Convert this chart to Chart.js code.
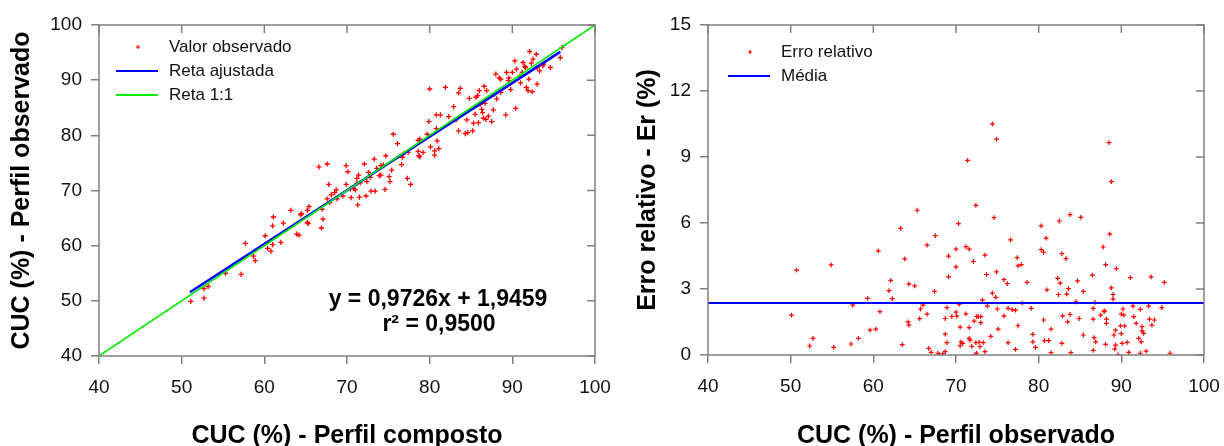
<!DOCTYPE html>
<html>
<head>
<meta charset="utf-8">
<script src="https://cdn.jsdelivr.net/npm/chart.js@4/dist/chart.umd.min.js"></script>
<style>
  body { margin: 0; background: #fff; }
  #wrap { position: relative; width: 1224px; height: 446px; }
  .box { position: absolute; top: 0; width: 612px; height: 446px; }
</style>
</head>
<body>
<div id="wrap">
  <div class="box" style="left:0"><canvas id="chartCUC" width="612" height="446"></canvas></div>
  <div class="box" style="left:612px"><canvas id="chartErro" width="612" height="446"></canvas></div>
</div>
<script>
// Perfil composto (x) x Perfil observado (y)
const cucComposto = [51.1,52.7,52.7,53.2,55.3,57.2,57.7,58.7,58.9,60.1,60.4,60.8,61.0,61.0,61.1,62.0,62.3,63.2,63.9,64.2,
  64.4,64.5,65.2,65.3,65.4,65.2,66.6,66.9,67.0,67.1,67.6,67.6,67.8,67.9,68.1,68.5,68.7,68.8,69.5,69.9,
  69.9,70.1,70.4,70.5,70.8,71.0,71.2,71.2,71.3,71.4,71.5,71.6,72.1,72.3,72.4,72.6,72.8,72.9,73.3,73.4,
  73.6,73.9,74.1,74.1,74.4,74.6,74.7,75.1,75.2,75.4,75.6,76.1,76.6,76.7,76.8,77.3,77.4,77.7,78.6,78.6,
  78.7,78.8,78.8,79.2,79.7,80.0,79.9,80.1,80.6,80.6,80.8,80.8,80.9,81.1,81.3,81.9,82.3,82.9,83.2,83.5,
  83.5,83.7,84.3,84.5,84.6,84.8,85.2,85.3,85.5,85.6,85.8,85.9,86.0,86.1,86.3,86.4,86.5,86.6,86.7,86.8,
  86.9,87.1,87.5,87.7,87.8,88.0,88.1,88.4,88.6,88.6,89.2,89.3,89.5,89.6,89.8,90.0,90.3,90.4,90.5,90.9,
  91.0,91.2,91.3,91.5,91.6,91.7,91.9,92.0,92.1,92.3,92.4,92.5,92.9,93.0,93.0,93.3,93.7,93.8,94.6,95.8,96.0];
const cucObservado = [49.9,50.5,52.2,52.6,55.0,54.8,60.4,58.1,57.3,61.8,59.5,59.0,60.2,63.6,65.2,60.6,64.1,66.4,62.1,61.9,
  65.6,65.8,64.2,64.0,67.1,66.4,74.3,63.2,66.6,64.8,74.8,68.5,71.1,67.8,69.2,69.6,70.1,68.5,69.0,74.5,
  71.1,73.4,70.3,68.7,70.4,70.1,72.2,71.3,67.4,72.8,68.8,71.4,74.8,69.0,71.6,73.3,72.4,69.9,75.7,69.9,
  74.0,72.7,74.5,72.8,74.6,70.2,76.3,72.5,71.6,73.7,80.2,78.5,74.7,76.0,76.6,72.2,76.9,71.1,79.1,77.1,
  76.3,76.1,79.3,76.9,80.2,88.4,82.5,77.9,77.2,76.4,83.7,81.2,79.0,77.6,83.7,88.7,83.4,85.2,82.8,80.8,
  87.7,88.5,80.3,82.8,80.5,86.7,80.8,82.2,83.8,86.9,87.2,82.3,88.1,85.6,84.7,84.1,83.1,88.9,85.8,82.9,
  88.1,83.5,82.5,84.6,87.4,91.1,86.6,90.4,90.2,87.8,83.7,91.4,89.9,90.4,88.3,91.4,93.5,84.9,92.0,90.7,
  89.5,91.4,93.2,92.5,92.3,88.7,88.1,90.2,95.2,93.1,87.9,93.8,94.7,92.3,89.3,91.7,92.6,92.9,92.3,94.1,95.9];

// reta ajustada y = 0,9726x + 1,9459 (extremos)
const retaX = [51.0, 95.8];
const retaY = [51.55, 95.12];
const reta11 = [40, 100];

// Erro relativo x Perfil observado
const erroX = [50.7,50.1,52.3,52.7,54.9,55.2,57.3,57.5,58.2,59.3,59.6,60.3,60.6,60.8,61.9,62.1,62.3,63.3,63.5,63.8,
  64.2,64.3,64.3,65.0,65.3,65.6,65.7,66.0,66.5,66.5,66.7,67.0,67.4,67.5,67.8,68.0,68.4,68.7,68.7,68.7,
  68.9,68.9,69.1,69.1,69.5,70.0,70.0,70.0,70.1,70.3,70.4,70.5,70.5,70.6,70.8,71.2,71.2,71.4,71.6,71.6,
  71.6,71.7,71.9,72.1,72.2,72.3,72.4,72.4,72.5,72.5,72.7,72.8,72.9,73.0,73.0,73.2,73.3,73.5,73.5,73.7,
  73.8,74.2,74.4,74.4,74.6,74.8,74.9,74.9,75.0,75.1,75.8,75.8,76.2,76.3,76.3,76.6,76.8,77.2,77.2,77.4,
  77.5,77.5,77.9,78.0,78.6,79.1,79.3,79.3,79.6,80.3,80.3,80.6,80.6,80.7,80.9,81.0,81.2,81.5,81.5,82.3,
  82.4,82.5,82.6,82.8,82.8,82.9,83.3,83.4,83.5,83.6,83.8,83.8,83.9,84.5,84.7,84.9,85.1,85.4,85.4,86.5,
  86.6,86.6,86.6,86.7,86.8,86.9,87.5,87.8,87.9,88.0,88.1,88.1,88.2,88.2,88.5,88.6,88.8,88.8,89.0,89.0,
  89.1,89.2,89.3,89.3,89.4,89.6,89.9,90.0,90.0,90.1,90.2,90.3,90.4,90.7,90.9,91.1,91.4,91.5,91.8,92.1,
  92.3,92.3,92.4,92.5,92.5,92.7,93.0,93.3,93.4,93.6,93.7,94.0,94.9,95.2,95.9];
const erroY = [3.86,1.81,0.41,0.76,4.10,0.35,0.50,2.27,0.76,2.57,1.13,1.18,4.73,1.97,2.93,3.39,2.56,5.76,0.47,4.37,
  1.51,3.22,1.36,3.14,6.58,1.65,2.09,2.27,1.86,4.99,0.30,0.12,2.89,5.43,0.08,0.02,0.05,0.95,0.15,1.66,
  0.56,2.15,3.55,4.49,1.75,4.01,4.81,1.95,1.77,5.97,2.31,1.27,0.42,0.60,0.53,4.93,1.87,8.85,4.81,1.24,
  0.76,0.68,0.39,4.25,1.54,0.02,6.80,0.56,1.75,0.08,1.74,0.57,0.38,1.74,1.47,2.49,0.56,0.15,4.54,3.66,
  2.22,0.85,10.51,2.81,6.24,2.62,3.78,9.81,2.09,1.18,3.43,1.78,3.24,2.12,0.56,5.23,2.06,2.04,0.26,4.43,
  1.33,4.05,4.11,2.36,3.30,2.12,0.94,0.60,0.35,5.87,4.79,4.67,1.59,0.65,5.31,2.96,0.65,1.18,0.11,3.48,
  2.75,6.09,3.27,0.53,4.61,1.78,4.38,2.77,1.51,3.02,6.38,1.84,0.11,2.42,3.37,1.66,6.26,0.91,2.89,3.63,
  2.12,1.63,0.21,0.79,2.39,0.60,1.81,4.91,1.98,2.00,4.11,0.48,1.63,1.44,9.65,5.49,7.88,3.05,2.75,2.54,
  0.91,0.27,1.13,0.45,3.93,0.02,1.32,1.86,0.97,0.53,2.09,1.81,1.32,0.57,0.12,3.52,2.22,1.74,1.44,0.76,
  0.08,2.07,0.60,1.10,1.29,0.98,0.18,2.22,1.63,3.55,1.36,1.59,2.15,3.30,0.08];
const mediaErro = 2.36;

const xTicksCUC = [40, 50, 60, 70, 80, 90, 100];
const yTicksCUC = [40, 50, 60, 70, 80, 90, 100];
const yTicksErro = [0, 3, 6, 9, 12, 15];

const grey = "#808080";
Chart.defaults.font.family = "'Liberation Sans', Arial, sans-serif";
Chart.defaults.color = "#111";

function pares(xs, ys) {
    return xs.map((x, i) => ({ x: x, y: ys[i] }));
}

// moldura com ticks internos no topo e na direita + legenda e texto
const moldura = {
    id: "moldura",
    afterDraw(chart, args, opts) {
        const ctx = chart.ctx;
        const a = chart.chartArea;
        const sx = chart.scales.x, sy = chart.scales.y;
        ctx.save();
        ctx.strokeStyle = grey;
        ctx.lineWidth = 1.5;
        ctx.strokeRect(a.left, a.top, a.right - a.left, a.bottom - a.top);
        ctx.beginPath();
        sx.ticks.forEach(t => {
            const px = sx.getPixelForValue(t.value);
            ctx.moveTo(px, a.top);
            ctx.lineTo(px, a.top + 8);
        });
        sy.ticks.forEach(t => {
            const py = sy.getPixelForValue(t.value);
            ctx.moveTo(a.right, py);
            ctx.lineTo(a.right - 8, py);
        });
        ctx.stroke();

        // legenda
        ctx.font = "17px 'Liberation Sans', Arial, sans-serif";
        ctx.textBaseline = "middle";
        ctx.fillStyle = "#111";
        opts.legenda.forEach((item, i) => {
            const y = opts.legY + i * 24;
            if (item.tipo === "ponto") {
                ctx.strokeStyle = "#ff0000";
                ctx.lineWidth = 1.2;
                ctx.beginPath();
                ctx.moveTo(138 - 2, y); ctx.lineTo(138 + 2, y);
                ctx.moveTo(138, y - 2); ctx.lineTo(138, y + 2);
                ctx.stroke();
            } else {
                ctx.strokeStyle = item.cor;
                ctx.lineWidth = 2;
                ctx.beginPath();
                ctx.moveTo(116, y); ctx.lineTo(158, y);
                ctx.stroke();
            }
            ctx.fillText(item.texto, 169, y);
        });

        if (opts.equacao) {
            ctx.font = "bold 23px 'Liberation Sans', Arial, sans-serif";
            ctx.textAlign = "center";
            ctx.fillStyle = "#000";
            ctx.fillText(opts.equacao[0], 438, 300);
            ctx.fillText(opts.equacao[1], 439, 325);
        }
        ctx.restore();
    }
};

function eixo(min, max, ticks, titulo, tamanho, horizontal, tituloPad) {
    return {
        type: "linear",
        min: min,
        max: max,
        afterBuildTicks: s => { s.ticks = ticks.map(v => ({ value: v })); },
        afterFit: s => {
            // tamanho fixo do eixo; sem folga extra para os rótulos das pontas
            if (horizontal) { s.height = tamanho; s.paddingLeft = 0; s.paddingRight = 0; }
            else { s.width = tamanho; s.paddingTop = 0; s.paddingBottom = 0; }
        },
        ticks: { font: { size: 19 }, color: "#111", padding: horizontal ? 12 : 9 },
        grid: { drawOnChartArea: false, tickLength: 8, color: grey, lineWidth: 1.5 },
        border: { display: false },
        title: {
            display: true,
            text: titulo,
            color: "#000",
            font: { size: 25, weight: "bold", lineHeight: horizontal ? 0.8 : 1 },
            padding: tituloPad
        }
    };
}

var ctxCUC = document.getElementById("chartCUC").getContext("2d");
var chartCUC = new Chart(ctxCUC, {
    type: "scatter",
    data: {
        datasets: [{
            label: "Reta 1:1",
            type: "line",
            data: pares(reta11, reta11),
            borderColor: "#00ee00",
            borderWidth: 1.6,
            pointRadius: 0,
            order: 1
        }, {
            label: "Reta ajustada",
            type: "line",
            data: pares(retaX, retaY),
            borderColor: "#0000ff",
            borderWidth: 2.6,
            pointRadius: 0,
            order: 2
        }, {
            label: "Valor observado",
            data: pares(cucComposto, cucObservado),
            pointStyle: "cross",
            pointRadius: 2.6,
            borderColor: "#ff0000",
            borderWidth: 1.3,
            order: 3
        }]
    },
    options: {
        responsive: false,
        animation: false,
        layout: { padding: { top: 25, right: 17, left: 0, bottom: 0 } },
        plugins: {
            legend: { display: false },
            tooltip: { enabled: false },
            moldura: {
                legY: 47,
                legenda: [
                    { tipo: "ponto", texto: "Valor observado" },
                    { tipo: "linha", cor: "#0000ff", texto: "Reta ajustada" },
                    { tipo: "linha", cor: "#00ee00", texto: "Reta 1:1" }
                ],
                equacao: ["y = 0,9726x + 1,9459", "r² = 0,9500"]
            }
        },
        scales: {
            x: eixo(40, 100, xTicksCUC, "CUC (%) - Perfil composto", 90, true, { top: 0, bottom: 0 }),
            y: eixo(40, 100, yTicksCUC, "CUC (%) - Perfil observado", 99, false, { top: 10, bottom: 0 })
        }
    },
    plugins: [moldura]
});

var ctxErro = document.getElementById("chartErro").getContext("2d");
var chartErro = new Chart(ctxErro, {
    type: "scatter",
    data: {
        datasets: [{
            label: "Média",
            type: "line",
            data: pares([40, 100], [mediaErro, mediaErro]),
            borderColor: "#0000ff",
            borderWidth: 2,
            pointRadius: 0,
            order: 1
        }, {
            label: "Erro relativo",
            data: pares(erroX, erroY),
            pointStyle: "cross",
            pointRadius: 2.4,
            borderColor: "#ff0000",
            borderWidth: 1.2,
            order: 2
        }]
    },
    options: {
        responsive: false,
        animation: false,
        layout: { padding: { top: 25, right: 20, left: 0, bottom: 0 } },
        plugins: {
            legend: { display: false },
            tooltip: { enabled: false },
            moldura: {
                legY: 52,
                legenda: [
                    { tipo: "ponto", texto: "Erro relativo" },
                    { tipo: "linha", cor: "#0000ff", texto: "Média" }
                ]
            }
        },
        scales: {
            x: eixo(40, 100, xTicksCUC, "CUC (%) - Perfil observado", 91, true, { top: 0, bottom: 0 }),
            y: eixo(0, 15, yTicksErro, "Erro relativo - Er (%)", 96, false, { top: 24, bottom: 0 })
        }
    },
    plugins: [moldura]
});
</script>
</body>
</html>
